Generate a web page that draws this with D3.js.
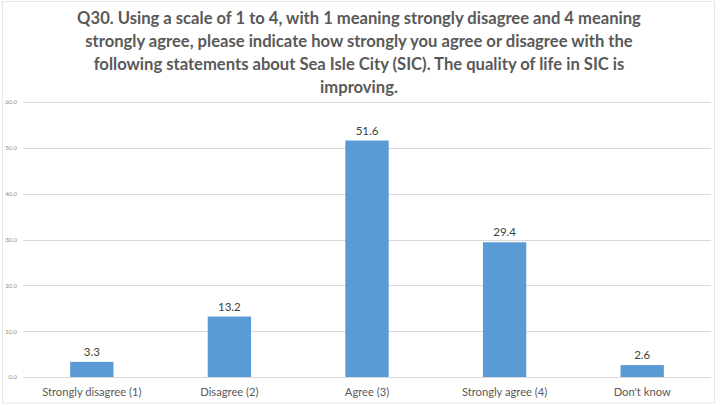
<!DOCTYPE html>
<html>
<head>
<meta charset="utf-8">
<script src="https://cdn.jsdelivr.net/npm/d3@7"></script>
<style>
  body { margin: 0; background: #fff; }
  text { font-family: Lato, "Open Sans", sans-serif; }
</style>
</head>
<body>
<div id="chart"></div>
<script>
// Data
const categories = ["Strongly disagree (1)", "Disagree (2)", "Agree (3)", "Strongly agree (4)", "Don't know"];
const values = [3.3, 13.2, 51.6, 29.4, 2.6];
const yTicks = [0, 10, 20, 30, 40, 50, 60];
const titleLines = [
  "Q30. Using a scale of 1 to 4, with 1 meaning strongly disagree and 4 meaning",
  "strongly agree, please indicate how strongly you agree or disagree with the",
  "following statements about Sea Isle City (SIC). The quality of life in SIC is",
  "improving."
];

const W = 720, H = 405;
const plot = { left: 23, right: 711, top: 102, bottom: 377 };

const svg = d3.select("#chart")
  .append("svg")
  .attr("width", W)
  .attr("height", H);

// light frame round the chart
svg.append("rect")
  .attr("x", 2.5).attr("y", 1.5)
  .attr("width", 712).attr("height", 401.5)
  .attr("fill", "none")
  .attr("stroke", "#e6e6e6");

// Title
svg.append("g")
  .selectAll("text")
  .data(titleLines)
  .enter()
  .append("text")
  .attr("x", W / 2 - 1)
  .attr("y", (d, i) => 24 + i * 23)
  .attr("text-anchor", "middle")
  .attr("font-size", 16.6)
  .attr("font-weight", "bold")
  .attr("fill", "#595959")
  .text(d => d);

// Scales
const xScale = d3.scaleBand()
  .domain(categories)
  .range([plot.left, plot.right])
  .padding(0);

const yScale = d3.scaleLinear()
  .domain([0, 60])
  .range([plot.bottom, plot.top]);

// Gridlines
svg.append("g")
  .selectAll("line")
  .data(yTicks)
  .enter()
  .append("line")
  .attr("x1", plot.left)
  .attr("x2", plot.right)
  .attr("y1", d => Math.round(yScale(d)) + 0.5)
  .attr("y2", d => Math.round(yScale(d)) + 0.5)
  .attr("stroke", "#d9d9d9")
  .attr("stroke-width", 1);

// Y axis (labels only)
const yAxis = d3.axisLeft(yScale)
  .tickValues(yTicks)
  .tickFormat(d3.format(".1f"))
  .tickSize(0)
  .tickPadding(6);

svg.append("g")
  .attr("class", "y-axis")
  .attr("transform", `translate(${plot.left},0)`)
  .call(yAxis)
  .call(g => g.select(".domain").remove())
  .call(g => g.selectAll("text")
    .attr("font-size", 6)
    .attr("font-family", "Lato, sans-serif")
    .attr("fill", "#8c8c8c"));

// X axis (labels only)
const xAxis = d3.axisBottom(xScale).tickSize(0).tickPadding(11);

svg.append("g")
  .attr("class", "x-axis")
  .attr("transform", `translate(0,${plot.bottom})`)
  .call(xAxis)
  .call(g => g.select(".domain").remove())
  .call(g => g.selectAll("text")
    .attr("font-size", 11.2)
    .attr("font-family", "Lato, sans-serif")
    .attr("fill", "#595959"));

// Bars
const barW = xScale.bandwidth() * 0.315;

svg.selectAll(".bar")
  .data(values)
  .enter()
  .append("rect")
  .attr("class", "bar")
  .attr("x", (d, i) => xScale(categories[i]) + xScale.bandwidth() / 2 - barW / 2)
  .attr("y", d => yScale(d))
  .attr("width", barW)
  .attr("height", d => yScale(0) - yScale(d))
  .attr("fill", "#5b9bd5");

// Data labels
svg.selectAll(".label")
  .data(values)
  .enter()
  .append("text")
  .attr("class", "label")
  .attr("x", (d, i) => xScale(categories[i]) + xScale.bandwidth() / 2)
  .attr("y", d => yScale(d) - 6)
  .attr("text-anchor", "middle")
  .attr("font-size", 11.5)
  .attr("fill", "#404040")
  .text(d => d3.format(".1f")(d));
</script>
</body>
</html>
